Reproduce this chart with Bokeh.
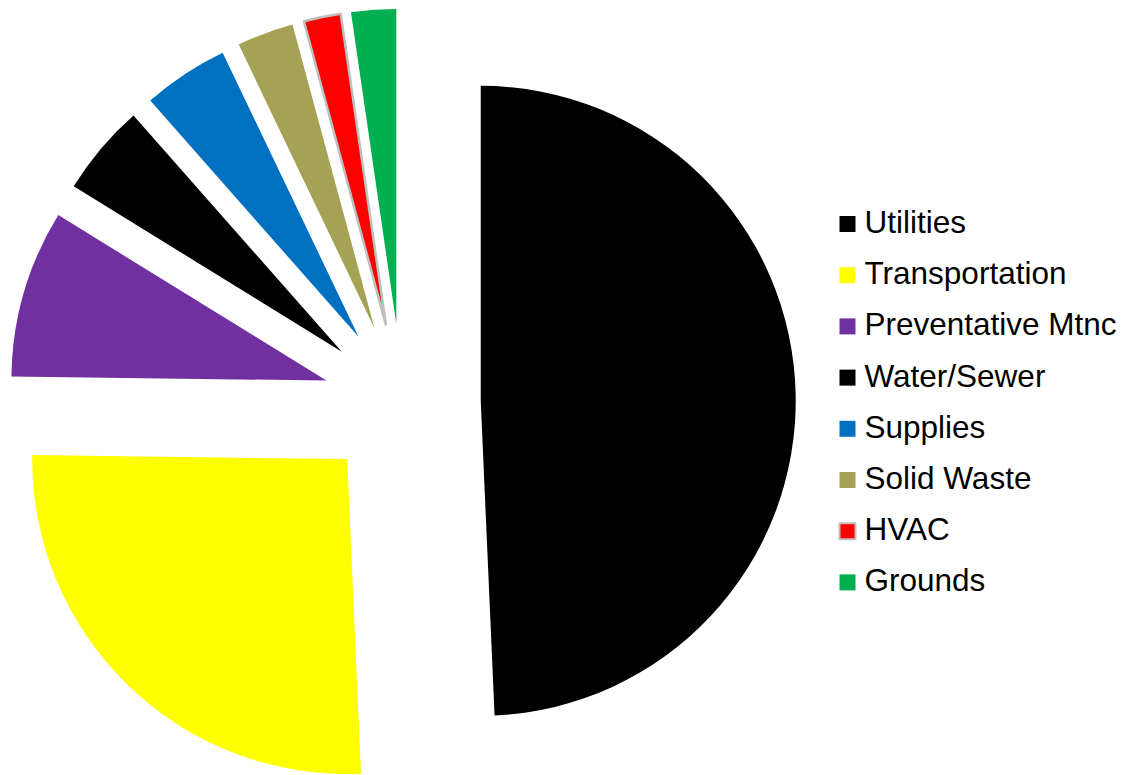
import math
from bokeh.plotting import figure
from bokeh.models import ColumnDataSource, Range1d
from bokeh.core.properties import value
from bokeh.embed import file_html
from bokeh.resources import INLINE

# ---- data ----
categories = ["Utilities", "Transportation", "Preventative Mtnc", "Water/Sewer",
              "Supplies", "Solid Waste", "HVAC", "Grounds"]
shares = [49.3, 25.9, 8.6, 4.7, 4.4, 2.9, 1.9, 2.3]
colors = ["#000000", "#FFFF00", "#7030A0", "#000000",
          "#0070C0", "#A5A155", "#FF0000", "#00B050"]
outline_alpha = [0, 0, 0, 0, 0, 0, 1, 0]

# ---- layout ----
W, H = 1124, 775
CX, CY = 401.5, H - 402.0
R = 315.0
EXPLODE = 0.25 * R

total = sum(shares)
starts, ends, xs, ys = [], [], [], []
acc = 0.0
for v in shares:
    b0 = acc / total * 2 * math.pi          # bearing, clockwise from top
    acc += v
    b1 = acc / total * 2 * math.pi
    bm = (b0 + b1) / 2
    xs.append(CX + EXPLODE * math.sin(bm))
    ys.append(CY + EXPLODE * math.cos(bm))
    starts.append(math.pi / 2 - b1)
    ends.append(math.pi / 2 - b0)

src = ColumnDataSource(dict(x=xs, y=ys, start=starts, end=ends, color=colors,
                            la=outline_alpha, cat=categories))

p = figure(width=W, height=H, output_backend="svg", toolbar_location=None,
           x_range=Range1d(0, W), y_range=Range1d(0, H),
           x_axis_type=None, y_axis_type=None, min_border=0,
           outline_line_color=None, background_fill_color="white")
p.grid.visible = False

p.wedge(x="x", y="y", radius=R, start_angle="start", end_angle="end",
        direction="anticlock", fill_color="color", line_color="#BFBFBF",
        line_alpha="la", line_width=2.5, source=src)

# ---- legend (manual) ----
LX_SQ, LX_TXT = 847.0, 864.0
LY0, LSTEP = 223.5, 51.2
leg_y = [H - (LY0 + i * LSTEP) for i in range(len(categories))]
leg = ColumnDataSource(dict(x=[LX_SQ] * len(categories), y=leg_y,
                            tx=[LX_TXT] * len(categories),
                            ty=[y + 2 for y in leg_y],
                            color=colors, la=outline_alpha, cat=categories))
p.scatter(x="x", y="y", marker="square", size=16, fill_color="color",
          line_color="#BFBFBF", line_alpha="la", line_width=2, source=leg)
p.text(x="tx", y="ty", text="cat", text_font=value("Liberation Sans"),
       text_font_size="31.5px", text_baseline="alphabetic", text_align="left",
       text_color="#000000", source=leg)

open("out.html", "w").write(file_html(p, INLINE))
